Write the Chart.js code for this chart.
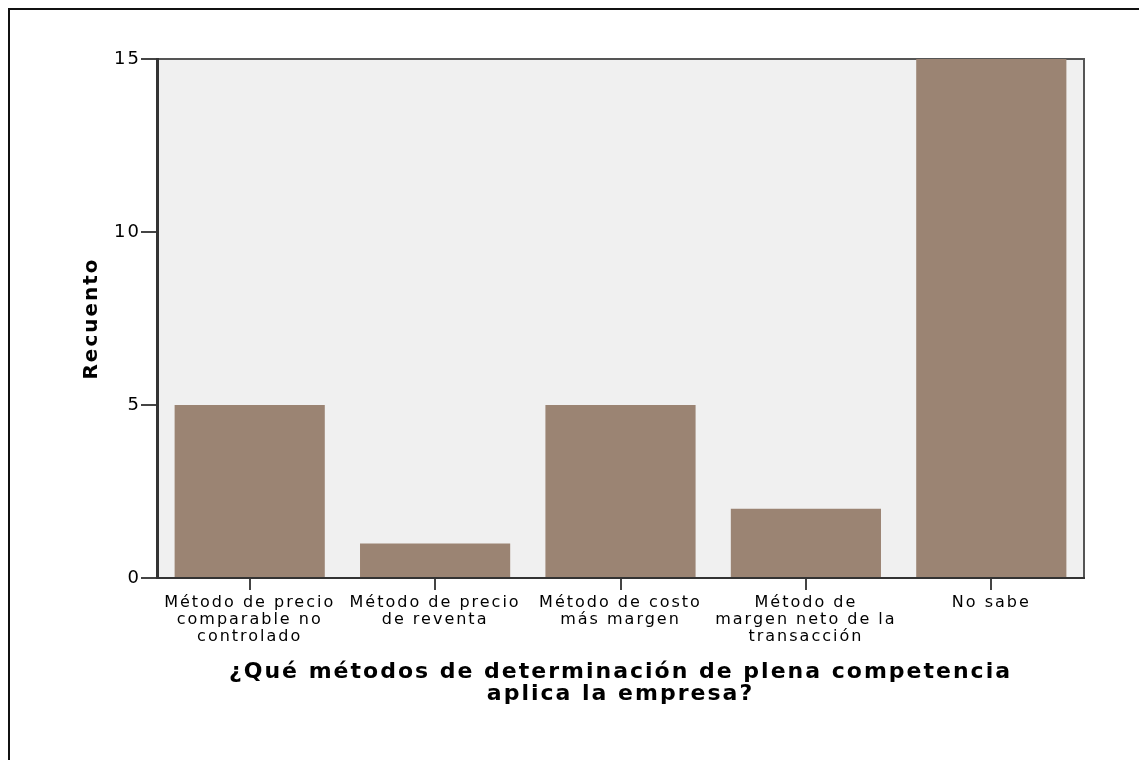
<!DOCTYPE html>
<html>
<head>
<meta charset="utf-8">
<script src="https://cdn.jsdelivr.net/npm/chart.js@4"></script>
<style>
  html, body { margin: 0; padding: 0; background: #fff; }
  #wrap { position: relative; width: 1139px; height: 760px; }
</style>
</head>
<body>
<div id="wrap"><canvas id="chart" width="1139" height="760"></canvas></div>
<script>
// categories and counts
const categories = [
    ['Método de precio', 'comparable no', 'controlado'],
    ['Método de precio', 'de reventa'],
    ['Método de costo', 'más margen'],
    ['Método de', 'margen neto de la', 'transacción'],
    ['No sabe']
];
const counts = [5, 1, 5, 2, 15];
const yTicks = [0, 5, 10, 15];

const xTitle = ['¿Qué métodos de determinación de plena competencia', 'aplica la empresa?'];
const yTitle = 'Recuento';

// the original text is drawn wide, so add a little spacing between letters
const SPACING = '2px';

// plot background, frame and outer border
const framePlugin = {
    id: 'frame',
    beforeLayout(chart) {
        chart.ctx.letterSpacing = SPACING;
    },
    beforeDraw(chart) {
        const ctx = chart.ctx;
        ctx.letterSpacing = SPACING;
        const a = chart.chartArea;
        ctx.save();
        ctx.fillStyle = '#f0f0f0';
        ctx.fillRect(a.left, a.top, a.right - a.left, a.bottom - a.top);
        ctx.strokeStyle = '#555';
        ctx.lineWidth = 2;
        ctx.beginPath();
        ctx.moveTo(a.left, a.top);
        ctx.lineTo(a.right, a.top);
        ctx.lineTo(a.right, a.bottom);
        ctx.stroke();
        // outer border of the picture
        ctx.strokeStyle = '#111';
        ctx.lineWidth = 2;
        ctx.beginPath();
        ctx.moveTo(9, chart.height);
        ctx.lineTo(9, 9);
        ctx.lineTo(chart.width, 9);
        ctx.stroke();
        ctx.restore();
    }
};

const ctx = document.getElementById('chart').getContext('2d');
new Chart(ctx, {
    type: 'bar',
    data: {
        labels: categories,
        datasets: [{
            data: counts,
            backgroundColor: '#9b8473',
            borderWidth: 0,
            categoryPercentage: 0.81,
            barPercentage: 1.0
        }]
    },
    options: {
        responsive: false,
        animation: false,
        layout: { padding: { left: 9, top: 59, right: 55, bottom: 0 } },
        plugins: {
            legend: { display: false },
            tooltip: { enabled: false }
        },
        scales: {
            x: {
                grid: {
                    display: true,
                    offset: false,
                    drawOnChartArea: false,
                    drawTicks: true,
                    tickLength: 12,
                    color: '#444',
                    lineWidth: 2
                },
                border: { color: '#333', width: 2 },
                ticks: {
                    color: '#000',
                    maxRotation: 0,
                    autoSkip: false,
                    padding: 4,
                    font: { family: 'DejaVu Sans', size: 16, lineHeight: '17px' }
                },
                title: {
                    display: true,
                    text: xTitle,
                    color: '#000',
                    font: { family: 'DejaVu Sans', size: 22, weight: 'bold', lineHeight: '22px' },
                    padding: { top: 0, bottom: 55 }
                },
                afterFit(scale) { scale.height = 182; }
            },
            y: {
                min: 0,
                max: 15,
                afterBuildTicks(scale) { scale.ticks = yTicks.map(v => ({ value: v })); },
                grid: {
                    display: true,
                    drawOnChartArea: false,
                    drawTicks: true,
                    tickLength: 16,
                    color: '#444',
                    lineWidth: 2
                },
                border: { color: '#333', width: 3 },
                ticks: {
                    color: '#000',
                    padding: 0,
                    font: { family: 'DejaVu Sans', size: 18 }
                },
                title: {
                    display: true,
                    text: yTitle,
                    color: '#000',
                    font: { family: 'DejaVu Sans', size: 20, weight: 'bold', lineHeight: '24px' },
                    padding: { top: 71, bottom: 0 }
                },
                afterFit(scale) { scale.width = 148; }
            }
        }
    },
    plugins: [framePlugin]
});
</script>
</body>
</html>
